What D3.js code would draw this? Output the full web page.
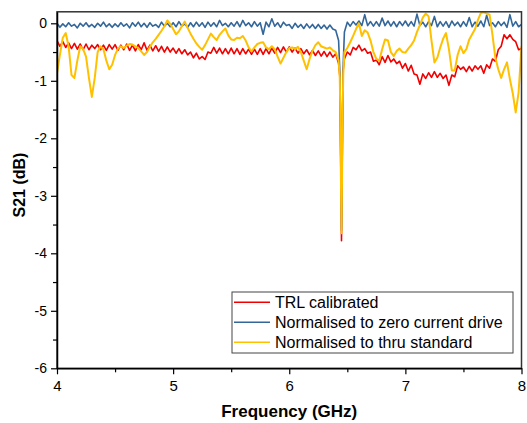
<!DOCTYPE html>
<html>
<head>
<meta charset="utf-8">
<script src="https://cdn.jsdelivr.net/npm/d3@7"></script>
<style>
  body { margin: 0; background: #fff; }
  svg { display: block; font-family: Arial, "Liberation Sans", sans-serif; }
</style>
</head>
<body>
<svg id="drawspace" width="527" height="423"></svg>
<script>
// frequency grid (GHz), 0.025 step, plus extra points around the resonance dip
let freqGrid = d3.range(0, 161).map(i => +(4 + i * 0.025).toFixed(3));
let dipFreq = [6.435, 6.44, 6.445, 6.455, 6.46, 6.465];

let trlValues = [
  -0.30,-0.40,-0.32,-0.42,-0.34,-0.44,-0.35,-0.45,-0.36,-0.46,
  -0.36,-0.46,-0.38,-0.44,-0.37,-0.46,-0.38,-0.47,-0.37,-0.45,
  -0.37,-0.47,-0.38,-0.46,-0.36,-0.47,-0.38,-0.48,-0.37,-0.46,
  -0.34,-0.47,-0.38,-0.48,-0.39,-0.49,-0.40,-0.50,-0.41,-0.50,
  -0.43,-0.52,-0.44,-0.53,-0.46,-0.55,-0.50,-0.60,-0.52,-0.62,
  -0.58,-0.63,-0.50,-0.52,-0.42,-0.52,-0.43,-0.53,-0.44,-0.53,
  -0.43,-0.53,-0.44,-0.54,-0.44,-0.53,-0.45,-0.54,-0.45,-0.54,
  -0.44,-0.54,-0.44,-0.53,-0.43,-0.52,-0.42,-0.51,-0.41,-0.50,
  -0.41,-0.50,-0.43,-0.52,-0.44,-0.53,-0.46,-0.55,-0.47,-0.56,
  -0.48,-0.57,-0.49,-0.58,-0.50,-0.59,-0.53,-0.70,-3.78,-0.62,
  -0.50,-0.55,-0.42,-0.46,-0.38,-0.48,-0.44,-0.52,-0.50,-0.66,
  -0.64,-0.72,-0.58,-0.68,-0.56,-0.67,-0.62,-0.70,-0.66,-0.78,
  -0.70,-0.83,-0.73,-0.88,-0.90,-1.06,-0.88,-0.96,-0.86,-0.94,
  -0.84,-0.94,-0.87,-0.96,-0.90,-1.08,-0.90,-0.93,-0.74,-0.80,
  -0.76,-0.84,-0.75,-0.83,-0.74,-0.80,-0.74,-0.87,-0.72,-0.78,
  -0.62,-0.66,-0.46,-0.40,-0.20,-0.27,-0.20,-0.28,-0.32,-0.46,
  -0.44
];
let trlDip = [-0.9, -1.7, -2.8, -2.7, -1.5, -0.8];

let zeroValues = [
  0.00,-0.07,-0.01,-0.06,0.01,-0.05,-0.02,-0.08,0.00,-0.05,
  0.01,-0.06,-0.02,-0.07,0.00,-0.05,0.02,-0.06,-0.01,-0.07,
  -0.01,-0.06,0.01,-0.05,-0.01,-0.08,0.01,-0.05,0.02,-0.06,
  0.00,-0.07,0.01,-0.05,-0.02,-0.07,0.02,-0.05,0.00,-0.06,
  0.01,-0.06,0.03,-0.05,-0.01,-0.07,0.01,-0.06,0.02,-0.05,
  0.01,-0.07,0.02,-0.05,0.01,-0.06,0.05,-0.04,0.00,-0.06,
  0.01,-0.05,0.03,-0.06,0.05,-0.04,0.01,-0.06,0.03,-0.05,
  0.01,-0.19,0.02,-0.06,0.08,-0.05,0.01,-0.07,0.02,-0.04,
  -0.02,-0.09,0.00,-0.07,-0.02,-0.09,-0.01,-0.08,-0.02,-0.09,
  -0.02,-0.09,-0.03,-0.10,-0.03,-0.10,-0.12,-0.30,-3.60,-0.15,
  0.02,-0.05,0.03,-0.03,0.04,-0.04,0.15,-0.04,0.03,-0.05,
  0.03,-0.05,0.09,-0.04,0.04,-0.05,0.03,-0.06,0.03,-0.04,
  0.04,-0.05,0.03,-0.05,0.16,-0.04,0.02,-0.06,0.03,-0.04,
  0.12,-0.06,0.03,-0.05,0.03,-0.07,0.04,-0.04,0.02,-0.06,
  0.03,-0.05,0.10,-0.06,0.02,-0.05,0.04,-0.06,0.14,-0.04,
  0.01,-0.06,0.03,-0.04,0.02,-0.07,0.15,-0.05,0.03,-0.06,
  -0.02
];
let zeroDip = [-0.8, -1.5, -2.6, -2.6, -1.4, -0.7];

let thruValues = [
  -0.87,-0.55,-0.25,-0.17,-0.40,-0.90,-0.95,-0.65,-0.40,-0.45,
  -0.58,-0.95,-1.28,-0.95,-0.50,-0.40,-0.45,-0.65,-0.80,-0.72,
  -0.55,-0.44,-0.40,-0.43,-0.39,-0.36,-0.37,-0.40,-0.43,-0.49,
  -0.55,-0.50,-0.41,-0.33,-0.27,-0.20,-0.13,-0.05,0.05,-0.01,
  -0.10,-0.19,-0.14,-0.05,0.03,-0.08,-0.18,-0.27,-0.35,-0.41,
  -0.46,-0.38,-0.28,-0.18,-0.24,-0.29,-0.20,-0.14,-0.09,-0.21,
  -0.28,-0.29,-0.25,-0.26,-0.22,-0.30,-0.42,-0.49,-0.42,-0.36,
  -0.34,-0.33,-0.42,-0.45,-0.40,-0.45,-0.58,-0.70,-0.60,-0.50,
  -0.43,-0.42,-0.45,-0.41,-0.50,-0.65,-0.80,-0.62,-0.48,-0.38,
  -0.33,-0.40,-0.42,-0.44,-0.42,-0.47,-0.50,-0.65,-3.65,-0.50,
  -0.43,-0.33,-0.22,-0.10,0.00,-0.22,-0.12,-0.16,-0.30,-0.50,
  -0.62,-0.65,-0.45,-0.28,-0.30,-0.50,-0.57,-0.48,-0.44,-0.50,
  -0.51,-0.44,-0.38,-0.30,-0.15,-0.03,0.10,0.17,0.12,-0.30,
  -0.68,-0.60,-0.42,-0.27,-0.17,-0.45,-0.82,-0.82,-0.55,-0.40,
  -0.52,-0.45,-0.28,-0.19,-0.10,0.06,0.18,0.19,0.17,0.15,
  -0.20,-0.60,-0.80,-0.95,-0.80,-0.68,-0.97,-1.22,-1.55,-1.20,
  -0.40
];
let thruDip = [-0.95, -1.6, -2.7, -2.6, -1.5, -0.9];

let seriesNames = ["TRL calibrated", "Normalised to zero current drive", "Normalised to thru standard"];
let seriesColors = ["#f00000", "#336699", "#ffc000"];
let xTicks = [4, 5, 6, 7, 8];
let yTicks = [0, -1, -2, -3, -4, -5, -6];

function buildSeries(vals, dipVals) {
  let pts = freqGrid.map((f, i) => ({ f: f, v: vals[i] }));
  dipFreq.forEach((f, i) => pts.push({ f: f, v: dipVals[i] }));
  return pts.sort((a, b) => a.f - b.f);
}
let allSeries = [
  buildSeries(trlValues, trlDip),
  buildSeries(zeroValues, zeroDip),
  buildSeries(thruValues, thruDip)
];

let ds = d3.select("#drawspace");
let pLeft = 57, pRight = 521.5, pTop = 11.8, pBottom = 368.3;

let xscale = d3.scaleLinear().domain([4, 8]).range([pLeft, pRight]);
let yscale = d3.scaleLinear().domain([-6, 0.2]).range([pBottom, pTop]);

ds.append("defs").append("clipPath").attr("id", "clip")
  .append("rect").attr("x", pLeft).attr("y", pTop)
  .attr("width", pRight - pLeft).attr("height", pBottom - pTop);

let plot = ds.append("g").attr("clip-path", "url(#clip)");
let myLine = d3.line().x(d => xscale(d.f)).y(d => yscale(d.v));
allSeries.forEach((s, i) => {
  plot.append("path").datum(s).attr("d", myLine)
    .attr("fill", "none").attr("stroke", seriesColors[i])
    .attr("stroke-width", i == 2 ? 2 : 1.6)
    .attr("stroke-linejoin", "round");
});

// frame
ds.append("rect").attr("x", pLeft).attr("y", pTop)
  .attr("width", pRight - pLeft).attr("height", pBottom - pTop)
  .attr("fill", "none").attr("stroke", "#333").attr("stroke-width", 1.5);

// minor ticks
let xMinor = [4.5, 5.5, 6.5, 7.5];
let yMinor = [-0.5, -1.5, -2.5, -3.5, -4.5, -5.5];
ds.append("g").attr("transform", "translate(0," + pBottom + ")")
  .call(d3.axisBottom(xscale).tickValues(xMinor).tickSize(4).tickFormat(""))
  .call(g => g.select(".domain").remove());
ds.append("g").attr("transform", "translate(" + pLeft + ",0)")
  .call(d3.axisLeft(yscale).tickValues(yMinor).tickSize(4).tickFormat(""))
  .call(g => g.select(".domain").remove());

// major axes
let xAxis = ds.append("g").attr("transform", "translate(0," + pBottom + ")")
  .call(d3.axisBottom(xscale).tickValues(xTicks).tickSize(6).tickSizeOuter(0).tickPadding(6).tickFormat(d3.format("d")));
let yAxis = ds.append("g").attr("transform", "translate(" + pLeft + ",0)")
  .call(d3.axisLeft(yscale).tickValues(yTicks).tickSize(6).tickSizeOuter(0).tickPadding(4).tickFormat(d3.format("d")));
[xAxis, yAxis].forEach(a => {
  a.select(".domain").attr("stroke", "#000").attr("stroke-width", 1.5);
  a.selectAll("text").attr("fill", "#000").style("font-family", "Arial, 'Liberation Sans', sans-serif");
});
xAxis.selectAll("text").style("font-size", "15px");
yAxis.selectAll("text").style("font-size", "14px").text(d => d == 0 ? "0" : "-" + Math.abs(d));
ds.selectAll(".tick line").attr("stroke", "#000").attr("stroke-width", 1.2);

// axis titles
ds.append("text").attr("x", (pLeft + pRight) / 2).attr("y", 417)
  .attr("text-anchor", "middle").style("font-size", "17px").style("font-weight", "bold")
  .text("Frequency (GHz)");
ds.append("text").attr("transform", "translate(25," + 185 + ") rotate(-90)")
  .attr("text-anchor", "middle").style("font-size", "16px").style("font-weight", "bold")
  .text("S21 (dB)");

// legend
let lg = ds.append("g").attr("transform", "translate(232,292)");
lg.append("rect").attr("width", 281).attr("height", 61)
  .attr("fill", "#fff").attr("stroke", "#444").attr("stroke-width", 1);
seriesNames.forEach((name, i) => {
  let row = lg.append("g").attr("transform", "translate(0," + (10.3 + i * 20) + ")");
  row.append("line").attr("x1", 2).attr("x2", 38).attr("y1", 0).attr("y2", 0)
    .attr("stroke", seriesColors[i]).attr("stroke-width", 1.5);
  row.append("text").attr("x", 43).attr("y", 5.7)
    .style("font-size", "16px").attr("fill", "#000").text(name);
});
</script>
</body>
</html>
